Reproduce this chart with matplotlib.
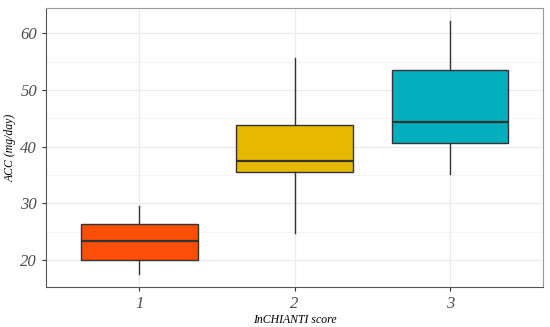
import matplotlib.pyplot as plt
from matplotlib.ticker import MultipleLocator

# InCHIANTI score groups and box statistics
groups = ["1", "2", "3"]
whislo = [17.5, 24.8, 35.1]
q1 = [20.0, 35.5, 40.7]
med = [23.3, 37.4, 44.4]
q3 = [26.4, 43.9, 53.5]
whishi = [29.5, 55.7, 62.2]
colors = ["#FC4E07", "#E7B800", "#00AFBB"]

plt.rcParams['font.family'] = ['Liberation Serif', 'DejaVu Serif']

stats = []
for i, g in enumerate(groups):
    stats.append({"label": g, "whislo": whislo[i], "q1": q1[i], "med": med[i],
                  "q3": q3[i], "whishi": whishi[i], "fliers": []})

fig, ax = plt.subplots(figsize=(5.5, 3.27), dpi=100)
fig.subplots_adjust(left=0.084, right=0.987, top=0.975, bottom=0.122)

bp = ax.bxp(stats, positions=[1, 2, 3], widths=0.75, patch_artist=True,
            showcaps=False, zorder=3,
            boxprops=dict(edgecolor="#333333", linewidth=1.0),
            medianprops=dict(color="#333333", linewidth=1.6),
            whiskerprops=dict(color="#333333", linewidth=1.0))
for patch, c in zip(bp["boxes"], colors):
    patch.set_facecolor(c)

ax.set_xlim(0.4, 3.6)
ax.set_ylim(15.25, 64.4)
ax.yaxis.set_major_locator(MultipleLocator(10))
ax.yaxis.set_minor_locator(MultipleLocator(5))
ax.grid(True, which="major", color="#EBEBEB", linewidth=0.9, zorder=0)
ax.grid(True, which="minor", axis="y", color="#F2F2F2", linewidth=0.6, zorder=0)
ax.set_axisbelow(True)
ax.tick_params(which="minor", length=0)
ax.tick_params(which="major", length=3, color="#333333", width=0.8,
               labelsize=12, labelcolor="#4D4D4D")
for lbl in ax.get_xticklabels() + ax.get_yticklabels():
    lbl.set_style("italic")
for s in ax.spines.values():
    s.set_color("#999999")
    s.set_linewidth(0.8)
ax.spines["left"].set_color("#555555")
ax.spines["bottom"].set_color("#555555")

ax.set_xlabel("InCHIANTI score", fontsize=8.5, style="italic", labelpad=1)
ax.set_ylabel("ACC (mg/day)", fontsize=8.5, style="italic", labelpad=3)

fig.savefig("out.png")
